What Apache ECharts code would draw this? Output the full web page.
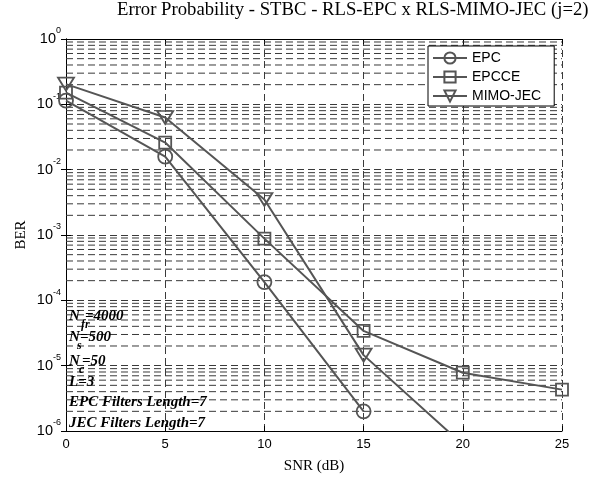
<!DOCTYPE html>
<html style="height: 100%">
<head>
    <meta charset="utf-8">
</head>
<body style="height: 100%; margin: 0; background: #fff">
    <div id="container" style="width: 604px; height: 479px"></div>
    <script type="text/javascript" src="https://cdn.jsdelivr.net/npm/echarts@6/dist/echarts.min.js"></script>
    <script type="text/javascript">
        // data
        var snr = [0, 5, 10, 15, 20, 25];
        var epc = [0.114, 0.0158, 1.9e-4, 2.0e-6, null, null];
        var epcce = [0.151, 0.026, 8.8e-4, 3.4e-5, 7.8e-6, 4.3e-6];
        var mimoJec = [0.204, 0.063, 3.5e-3, 1.45e-5, 6.2e-7, null];
        var xTicks = [0, 5, 10, 15, 20, 25];
        var decades = [-6, -5, -4, -3, -2, -1, 0];
        var minorSteps = [2, 3, 4, 5, 6, 7, 8, 9];

        var pairs = function (ys) {
            var res = [];
            for (var i = 0; i < snr.length; i++) {
                if (ys[i] !== null) res.push([snr[i], ys[i]]);
            }
            return res;
        };

        var dash = [7, 4];
        var gridColor = '#3a3a3a';
        var lineColor = '#555';
        var serif = 'Liberation Serif';
        var sans = 'Liberation Sans';

        var dom = document.getElementById("container");
        var myChart = echarts.init(dom);

        // minor log grid (2..9 in each decade), one flat dashed line each
        var minorSeries = [];
        for (var d = 0; d < decades.length - 1; d++) {
            for (var k = 0; k < minorSteps.length; k++) {
                var v = minorSteps[k] * Math.pow(10, decades[d]);
                minorSeries.push({
                    type: 'line',
                    silent: true,
                    symbol: 'none',
                    z: 1,
                    lineStyle: { type: dash, color: gridColor, width: 1 },
                    emphasis: { disabled: true },
                    data: [[xTicks[0], v], [xTicks[xTicks.length - 1], v]]
                });
            }
        }

        var yLabel = {
            color: '#000',
            margin: 5,
            formatter: function (v) {
                var e = Math.round(Math.log10(v));
                return '{b|10}{s|' + e + '}';
            },
            rich: {
                b: { fontSize: 14.5, fontFamily: sans, color: '#000', lineHeight: 15, verticalAlign: 'middle' },
                s: { fontSize: 9, fontFamily: sans, color: '#000', lineHeight: 12, padding: [0, 0, 11, 0], verticalAlign: 'bottom' }
            }
        };

        function note(x, y, txt) {
            return {
                type: 'text', left: x, top: y, z: 100,
                style: { text: txt, font: 'italic bold 15px "Liberation Serif"', fill: '#000' }
            };
        }
        function sub(x, y, txt) {
            return {
                type: 'text', left: x, top: y, z: 100,
                style: { text: txt, font: 'italic bold 12px "Liberation Serif"', fill: '#000' }
            };
        }

        var symStyle = { color: 'rgba(0,0,0,0)', borderColor: lineColor, borderWidth: 1.8 };

        var mainSeries = [{
            name: 'EPC',
            type: 'line',
            data: pairs(epc),
            symbol: 'circle',
            symbolSize: 14,
            color: lineColor,
            lineStyle: { color: lineColor, width: 2 },
            itemStyle: symStyle,
            z: 3
        }, {
            name: 'EPCCE',
            type: 'line',
            data: pairs(epcce),
            symbol: 'rect',
            symbolSize: 12,
            color: lineColor,
            lineStyle: { color: lineColor, width: 2 },
            itemStyle: symStyle,
            z: 3
        }, {
            name: 'MIMO-JEC',
            type: 'line',
            data: pairs(mimoJec),
            symbol: 'triangle',
            symbolRotate: 180,
            symbolSize: [16, 13],
            color: lineColor,
            lineStyle: { color: lineColor, width: 2 },
            itemStyle: symStyle,
            z: 3
        }];

        var option = {
            backgroundColor: '#fff',
            animation: false,
            title: {
                text: 'Error Probability - STBC - RLS-EPC x RLS-MIMO-JEC (j=2)',
                left: 117,
                top: 1,
                padding: 0,
                textStyle: { fontFamily: serif, fontSize: 18.7, fontWeight: 'normal', color: '#000' }
            },
            legend: {
                left: 428,
                top: 46,
                orient: 'vertical',
                backgroundColor: '#fff',
                borderColor: '#000',
                borderWidth: 1,
                borderRadius: 0,
                padding: [5, 13, 3, 4],
                itemGap: 5,
                itemWidth: 34,
                itemHeight: 14,
                textStyle: { fontFamily: sans, fontSize: 14, color: '#000' },
                data: ['EPC', 'EPCCE', 'MIMO-JEC']
            },
            grid: { left: 66, right: 42, top: 39, height: 392 },
            xAxis: [{
                type: 'value',
                min: 0, max: 25, interval: 5,
                name: 'SNR (dB)',
                nameLocation: 'middle',
                nameGap: 28,
                nameTextStyle: { fontFamily: serif, fontSize: 15, color: '#000' },
                axisLine: { lineStyle: { color: '#000', width: 1 } },
                axisTick: { inside: true, length: 5, lineStyle: { color: '#000' } },
                axisLabel: {
                    fontFamily: sans, fontSize: 13, color: '#000', margin: 7,
                    formatter: function (v) { return xTicks.indexOf(v) >= 0 ? String(v) : ''; }
                },
                splitLine: { show: true, lineStyle: { type: dash, color: gridColor, width: 1 } }
            }, {
                type: 'value',
                position: 'top',
                min: 0, max: 25, interval: 5,
                axisLine: { show: true, lineStyle: { color: '#000', width: 1 } },
                axisTick: { inside: true, length: 5, lineStyle: { color: '#000' } },
                axisLabel: { show: false },
                splitLine: { show: false }
            }],
            yAxis: [{
                type: 'log',
                logBase: 10,
                min: 1e-6, max: 1,
                splitNumber: decades.length - 1,
                name: 'BER',
                nameLocation: 'middle',
                nameGap: 37,
                nameMoveOverlap: false,
                nameTextStyle: { fontFamily: serif, fontSize: 15, color: '#000' },
                axisLine: { show: true, lineStyle: { color: '#000', width: 1 } },
                axisTick: { show: true, inside: true, length: 5, lineStyle: { color: '#000' } },
                axisLabel: yLabel,
                splitLine: { show: true, lineStyle: { type: dash, color: gridColor, width: 1 } }
            }, {
                type: 'log',
                logBase: 10,
                position: 'right',
                min: 1e-6, max: 1,
                splitNumber: decades.length - 1,
                axisLine: { show: true, lineStyle: { color: '#000', width: 1 } },
                axisTick: { show: true, inside: true, length: 5, lineStyle: { color: '#000' } },
                axisLabel: { show: false },
                splitLine: { show: false }
            }],
            graphic: [
                note(69, 309, 'N'), sub(81, 319, 'fr'), note(85, 309, '=4000'),
                note(69, 330, 'N'), sub(77, 340, 's'), note(80, 330, '=500'),
                note(69, 354, 'N'), sub(79, 364, 'c'), note(82, 354, '=50'),
                note(69, 375, 'L=3'),
                note(69, 395, 'EPC Filters Length=7'),
                note(69, 416, 'JEC Filters Length=7')
            ],
            series: minorSeries.concat(mainSeries)
        };

        myChart.setOption(option);
    </script>
</body>
</html>
